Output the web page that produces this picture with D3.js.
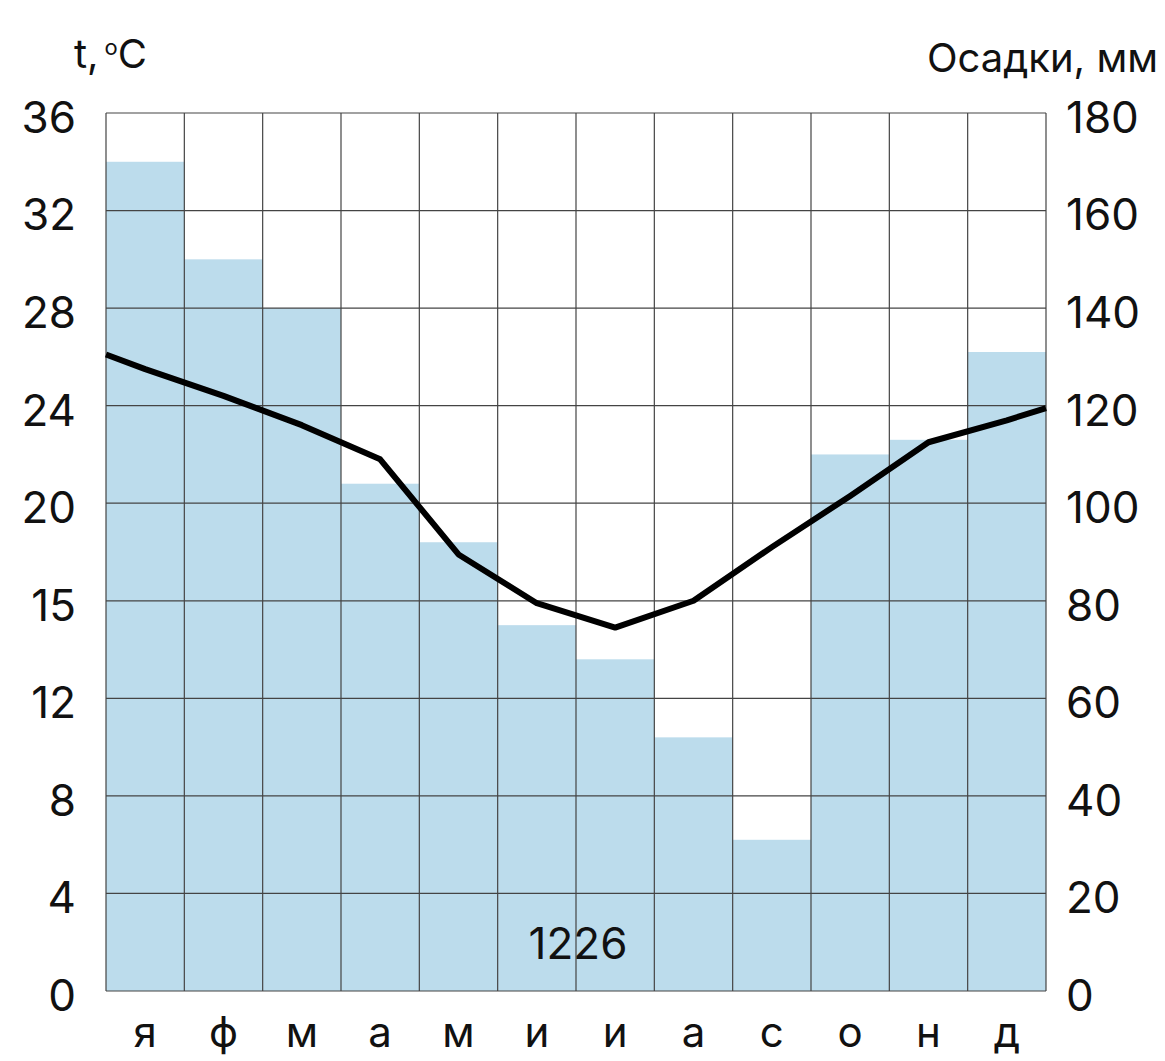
<!DOCTYPE html>
<html>
<head>
<meta charset="utf-8">
<script src="https://cdn.jsdelivr.net/npm/d3@7"></script>
<style>
  body { margin: 0; background: #fff; }
  text { font-family: Inter, "Noto Sans", sans-serif; fill: #111; }
</style>
</head>
<body>
<div class="chart"></div>
<script>
// months
var months = ["я", "ф", "м", "а", "м", "и", "и", "а", "с", "о", "н", "д"];
// precipitation, mm
var precip = [170, 150, 140, 104, 92, 75, 68, 52, 31, 110, 113, 131];
// mean temperature, °C (at month centres)
var temp = [25.5, 24.4, 23.2, 21.8, 17.9, 15.9, 14.9, 16.0, 18.2, 20.3, 22.5, 23.4];
// line ends at the left and right edges of the plot
var tempStart = 26.1;
var tempEnd = 23.9;
// axis ticks
var tempTicks = [0, 4, 8, 12, 16, 20, 24, 28, 32, 36];
var tempTickLabels = ["0", "4", "8", "12", "15", "20", "24", "28", "32", "36"];
var precipTicks = [0, 20, 40, 60, 80, 100, 120, 140, 160, 180];
var totalLabel = "1226";

var svgWidth = 1165;
var svgHeight = 1061;

var margin = { top: 113, right: 119, bottom: 70, left: 106 };
var width = svgWidth - margin.left - margin.right;
var height = svgHeight - margin.top - margin.bottom;

var svg = d3.select(".chart")
    .append("svg")
    .attr("width", svgWidth)
    .attr("height", svgHeight);

var chartGroup = svg.append("g")
    .attr("transform", `translate(${margin.left}, ${margin.top})`);

var xScale = d3.scaleBand()
    .domain(d3.range(months.length))
    .range([0, width])
    .padding(0);

var yTemp = d3.scaleLinear().domain([0, 36]).range([height, 0]);
var yPrecip = d3.scaleLinear().domain([0, 180]).range([height, 0]);

// bars
chartGroup.selectAll("rect.bar")
    .data(precip)
    .enter()
    .append("rect")
    .attr("class", "bar")
    .attr("x", (d, i) => xScale(i))
    .attr("y", d => yPrecip(d))
    .attr("width", xScale.bandwidth())
    .attr("height", d => height - yPrecip(d))
    .attr("fill", "#bcdcec");

// grid
chartGroup.selectAll("line.hgrid")
    .data(tempTicks)
    .enter()
    .append("line")
    .attr("x1", 0)
    .attr("x2", width)
    .attr("y1", d => yTemp(d))
    .attr("y2", d => yTemp(d))
    .attr("stroke", "#444")
    .attr("stroke-width", 1.2);

chartGroup.selectAll("line.vgrid")
    .data(d3.range(months.length + 1))
    .enter()
    .append("line")
    .attr("x1", d => d * xScale.step())
    .attr("x2", d => d * xScale.step())
    .attr("y1", 0)
    .attr("y2", height)
    .attr("stroke", "#444")
    .attr("stroke-width", 1.2);

// left axis labels
chartGroup.selectAll("text.ltick")
    .data(tempTicks)
    .enter()
    .append("text")
    .attr("x", -30)
    .attr("y", d => yTemp(d) + 4)
    .attr("dy", "0.36em")
    .attr("text-anchor", "end")
    .style("font-size", "44px")
    .text((d, i) => tempTickLabels[i]);

// right axis labels
chartGroup.selectAll("text.rtick")
    .data(precipTicks)
    .enter()
    .append("text")
    .attr("x", width + 20)
    .attr("y", d => yPrecip(d) + 4)
    .attr("dy", "0.36em")
    .attr("text-anchor", "start")
    .style("font-size", "44px")
    .text(d => d);

// month labels
chartGroup.selectAll("text.month")
    .data(months)
    .enter()
    .append("text")
    .attr("x", (d, i) => xScale(i) + xScale.bandwidth() / 2)
    .attr("y", height + 56)
    .attr("text-anchor", "middle")
    .style("font-size", "42px")
    .text(d => d);

// temperature line
var linePoints = [[0, tempStart]]
    .concat(temp.map((t, i) => [xScale(i) + xScale.bandwidth() / 2, t]))
    .concat([[width, tempEnd]]);

var line = d3.line()
    .x(d => d[0])
    .y(d => yTemp(d[1]));

chartGroup.append("path")
    .datum(linePoints)
    .attr("d", line)
    .attr("fill", "none")
    .attr("stroke", "#000")
    .attr("stroke-width", 6)
    .attr("stroke-linejoin", "round");

// annual total
chartGroup.append("text")
    .attr("x", width / 2 + 2)
    .attr("y", height - 32)
    .attr("text-anchor", "middle")
    .style("font-size", "44px")
    .text(totalLabel);

// axis titles
var tTitle = svg.append("text")
    .attr("x", 74)
    .attr("y", 68)
    .style("font-size", "40px");
tTitle.append("tspan").text("t,");
tTitle.append("tspan").attr("dx", 6).attr("dy", -13).style("font-size", "22px").text("o");
tTitle.append("tspan").attr("dy", 13).text("C");

svg.append("text")
    .attr("x", 1158)
    .attr("y", 72)
    .attr("text-anchor", "end")
    .style("font-size", "40px")
    .text("Осадки, мм");
</script>
</body>
</html>
